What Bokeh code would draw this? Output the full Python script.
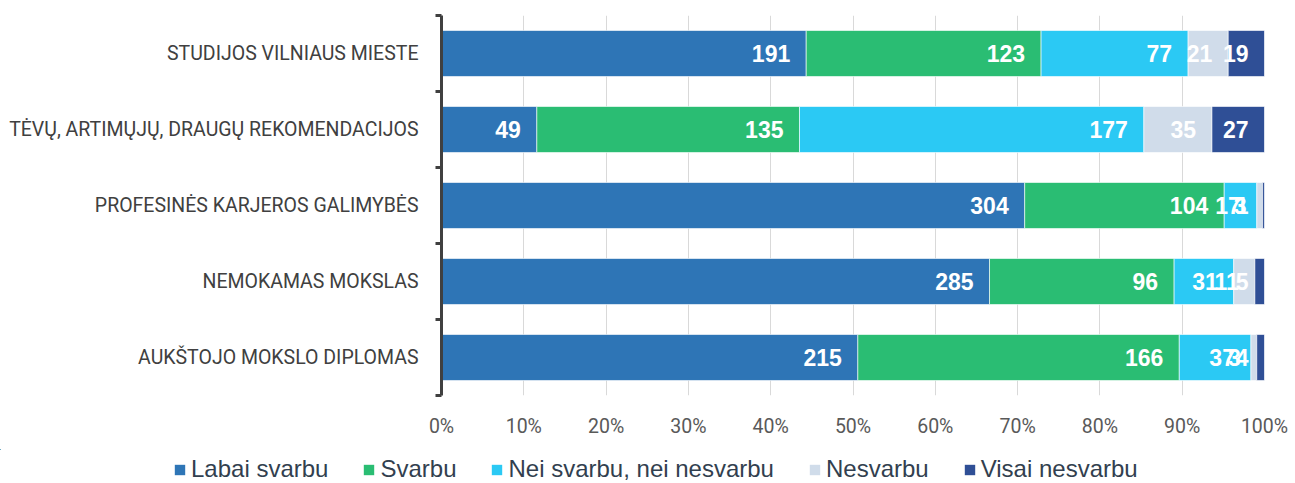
from bokeh.plotting import figure
from bokeh.models import ColumnDataSource, Range1d, FixedTicker, NumeralTickFormatter, Legend, LegendItem
from bokeh.embed import file_html
from bokeh.resources import INLINE
from bokeh.core.properties import value

categories = ["STUDIJOS VILNIAUS MIESTE",
              "TĖVŲ, ARTIMŲJŲ, DRAUGŲ REKOMENDACIJOS",
              "PROFESINĖS KARJEROS GALIMYBĖS",
              "NEMOKAMAS MOKSLAS",
              "AUKŠTOJO MOKSLO DIPLOMAS"]
series = ["Labai svarbu", "Svarbu", "Nei svarbu, nei nesvarbu", "Nesvarbu", "Visai nesvarbu"]
labai = [191, 49, 304, 285, 215]
svarbu = [123, 135, 104, 96, 166]
nei = [77, 177, 17, 31, 37]
nesvarbu = [21, 35, 3, 11, 3]
visai = [19, 27, 1, 5, 4]
colors = ["#2E75B6", "#2ABD73", "#2BC9F4", "#D0DCEA", "#2F4F96"]

values = [labai, svarbu, nei, nesvarbu, visai]
n = len(categories)
totals = [sum(v[i] for v in values) for i in range(n)]
ys = [n - i - 0.5 for i in range(n)]

p = figure(width=1290, height=449, output_backend="svg", toolbar_location=None,
           x_range=Range1d(0, 1), y_range=Range1d(0, n),
           min_border_left=441, min_border_right=26, min_border_top=15, min_border_bottom=54)
p.outline_line_color = None

# separate strip holding the legend, below the chart
lg = figure(width=1290, height=40, output_backend="svg", toolbar_location=None,
            x_range=Range1d(10, 11), y_range=Range1d(-20, -19),
            x_axis_type=None, y_axis_type=None, min_border=0)
lg.outline_line_color = None
lg.grid.visible = False

items = []
cum = [0.0] * n
for s, vals, col in zip(series, values, colors):
    left = [cum[i] for i in range(n)]
    right = [cum[i] + vals[i] / totals[i] for i in range(n)]
    cum = right
    src = ColumnDataSource(dict(y=ys, left=left, right=right, v=[str(x) for x in vals]))
    p.hbar(y="y", left="left", right="right", height=0.605, source=src,
           fill_color=col, line_color="white", line_width=1, line_alpha=0.6)
    p.text(x="right", y="y", text="v", source=src, text_align="right", text_baseline="middle",
           x_offset=-16, text_color="white", text_font=value("Liberation Sans"),
           text_font_style="bold", text_font_size="23px")
    # same bars in the legend strip (outside its visible range), used only for the swatch
    sw = lg.hbar(y="y", left="left", right="right", height=0.605, source=src,
                 fill_color=col, line_color=None)
    items.append(LegendItem(label=s, renderers=[sw]))

# x axis
p.xaxis.ticker = FixedTicker(ticks=[i / 10 for i in range(11)])
p.xaxis.formatter = NumeralTickFormatter(format="0%")
p.xaxis.axis_line_color = None
p.xaxis.major_tick_line_color = None
p.xaxis.major_tick_out = 0
p.xaxis.major_tick_in = 0
p.xaxis.minor_tick_line_color = None
p.xaxis.major_label_text_font = "Roboto"
p.xaxis.major_label_text_font_size = "19.5px"
p.xaxis.major_label_text_color = "#595959"
p.xaxis.major_label_standoff = 19
p.xgrid.grid_line_color = "#D9D9D9"
p.xgrid.grid_line_width = 1
p.ygrid.visible = False

# y axis
p.yaxis.ticker = FixedTicker(ticks=ys, minor_ticks=list(range(n + 1)))
p.yaxis.major_label_overrides = {y: c for y, c in zip(ys, categories)}
p.yaxis.major_tick_line_color = None
p.yaxis.major_tick_out = 0
p.yaxis.major_tick_in = 0
p.yaxis.minor_tick_out = 6
p.yaxis.minor_tick_in = 0
p.yaxis.minor_tick_line_width = 3
p.yaxis.minor_tick_line_color = "#404040"
p.yaxis.axis_line_width = 3
p.yaxis.axis_line_color = "#404040"
p.yaxis.major_label_text_font = "Roboto"
p.yaxis.major_label_text_font_size = "19.5px"
p.yaxis.major_label_text_color = "#404040"
p.yaxis.major_label_standoff = 17

legend = Legend(items=items, orientation="horizontal", location=(173, 6),
                glyph_width=13, glyph_height=13, label_standoff=5, spacing=34,
                label_text_font="Liberation Sans", label_text_font_size="24px",
                label_text_color="#323F4F", border_line_color=None,
                background_fill_alpha=0, padding=0, margin=0)
lg.add_layout(legend, "center")

open("out.html", "w").write(file_html([p, lg], INLINE))
